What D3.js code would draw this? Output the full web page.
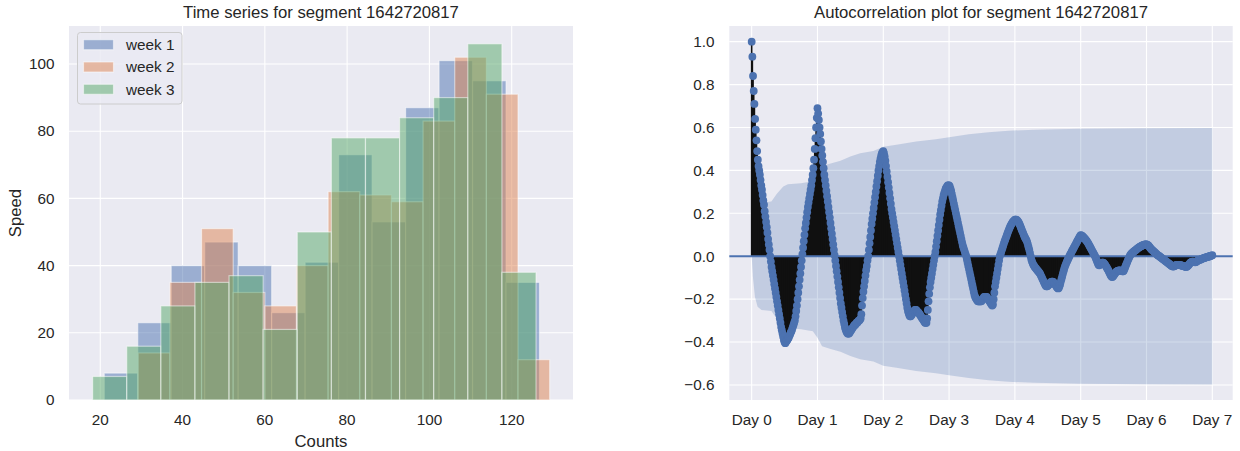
<!DOCTYPE html>
<html>
<head>
<meta charset="utf-8">
<style>
  body { margin: 0; background: #fff; }
  svg { font-family: "Liberation Sans", Arial, sans-serif; }
</style>
</head>
<body>
<svg width="1240" height="451"></svg>
<script src="https://d3js.org/d3.v7.min.js"></script>
<script>

// ---- histogram data (13 equal bins per week, range = [min, max]) ----
var weekNames = ["week 1", "week 2", "week 3"];
var weekColors = ["#4C72B0", "#DD8452", "#55A868"];
var weekRanges = [[20.97, 126.76], [29.23, 129.23], [18.14, 125.91]];
var week1Counts = [8, 23, 40, 47, 40, 26, 41, 73, 53, 87, 101, 95, 35];
var week2Counts = [14, 35, 51, 32, 28, 40, 62, 61, 59, 83, 102, 91, 12];
var week3Counts = [7, 16, 28, 35, 37, 21, 50, 78, 78, 84, 90, 106, 38];
var histTicksX = [20, 40, 60, 80, 100, 120];
var histTicksY = [0, 20, 40, 60, 80, 100];

// ---- autocorrelation data, one value per lag (96 lags per day) ----
var lagsPerDay = 96;
var acfDay0 = [1.00,0.93,0.84,0.77,0.71,0.64,0.59,0.54,0.49,0.45,
  0.42,0.40,0.38,0.355,0.33,0.31,0.285,0.26,0.24,0.21,
  0.185,0.16,0.135,0.11,0.08,0.055,0.03,0.0,-0.025,-0.05,
  -0.07,-0.09,-0.11,-0.13,-0.15,-0.17,-0.19,-0.21,-0.23,-0.25,
  -0.27,-0.29,-0.31,-0.33,-0.345,-0.36,-0.375,-0.39,-0.40,-0.405,
  -0.40,-0.395,-0.39,-0.385,-0.38,-0.37,-0.365,-0.355,-0.35,-0.34,
  -0.33,-0.32,-0.31,-0.30,-0.28,-0.255,-0.23,-0.20,-0.17,-0.14,
  -0.11,-0.08,-0.05,-0.02,0.01,0.04,0.07,0.10,0.13,0.155,
  0.18,0.205,0.23,0.25,0.27,0.29,0.31,0.33,0.355,0.38,
  0.41,0.45,0.50,0.55,0.60,0.645];
var acfDay1 = [0.69,0.665,0.635,0.60,0.57,0.535,0.50,0.47,0.44,0.41,
  0.38,0.355,0.33,0.305,0.28,0.255,0.23,0.205,0.18,0.155,
  0.13,0.105,0.08,0.055,0.03,0.005,-0.02,-0.045,-0.07,-0.095,
  -0.12,-0.145,-0.17,-0.195,-0.22,-0.24,-0.26,-0.28,-0.30,-0.315,
  -0.33,-0.34,-0.35,-0.355,-0.36,-0.36,-0.36,-0.355,-0.35,-0.345,
  -0.34,-0.335,-0.33,-0.325,-0.32,-0.32,-0.315,-0.31,-0.31,-0.305,
  -0.30,-0.30,-0.295,-0.29,-0.27,-0.23,-0.195,-0.165,-0.14,-0.115,
  -0.09,-0.065,-0.045,-0.02,0.0,0.03,0.06,0.09,0.12,0.15,
  0.175,0.20,0.225,0.25,0.275,0.30,0.325,0.35,0.375,0.40,
  0.42,0.44,0.455,0.47,0.48,0.485];
var acfDay2 = [0.49,0.48,0.465,0.445,0.42,0.395,0.37,0.345,0.32,0.295,
  0.27,0.245,0.22,0.20,0.18,0.16,0.14,0.12,0.10,0.08,
  0.06,0.04,0.02,0.0,-0.02,-0.04,-0.06,-0.08,-0.10,-0.12,
  -0.14,-0.16,-0.18,-0.20,-0.22,-0.24,-0.255,-0.265,-0.275,-0.28,
  -0.28,-0.275,-0.27,-0.265,-0.26,-0.255,-0.25,-0.25,-0.25,-0.255,
  -0.26,-0.26,-0.265,-0.27,-0.275,-0.28,-0.285,-0.29,-0.295,-0.30,
  -0.305,-0.31,-0.31,-0.31,-0.29,-0.25,-0.21,-0.175,-0.145,-0.12,
  -0.10,-0.08,-0.06,-0.04,-0.02,0.0,0.02,0.045,0.07,0.095,
  0.12,0.145,0.17,0.195,0.215,0.235,0.255,0.27,0.285,0.295,
  0.305,0.315,0.32,0.325,0.33,0.33];
var acfDay3 = [0.33,0.325,0.315,0.305,0.29,0.275,0.26,0.245,0.23,0.215,
  0.20,0.185,0.17,0.155,0.14,0.125,0.11,0.095,0.08,0.065,
  0.05,0.04,0.03,0.02,0.01,0.0,-0.015,-0.03,-0.045,-0.06,
  -0.075,-0.09,-0.105,-0.12,-0.135,-0.15,-0.165,-0.18,-0.19,-0.195,
  -0.20,-0.205,-0.21,-0.21,-0.21,-0.21,-0.21,-0.21,-0.205,-0.20,
  -0.195,-0.19,-0.19,-0.19,-0.19,-0.19,-0.195,-0.20,-0.205,-0.21,
  -0.215,-0.22,-0.225,-0.23,-0.225,-0.20,-0.17,-0.14,-0.12,-0.10,
  -0.08,-0.06,-0.04,-0.02,0.0,0.01,0.02,0.03,0.04,0.05,
  0.06,0.07,0.078,0.087,0.096,0.105,0.114,0.122,0.13,0.138,
  0.144,0.15,0.155,0.16,0.163,0.166];
var acfDay4 = [0.17,0.17,0.17,0.168,0.165,0.16,0.155,0.148,0.14,0.132,
  0.124,0.116,0.108,0.10,0.092,0.085,0.08,0.074,0.065,0.054,
  0.042,0.03,0.016,0.0,-0.015,-0.025,-0.033,-0.04,-0.045,-0.05,
  -0.054,-0.058,-0.062,-0.066,-0.07,-0.074,-0.078,-0.083,-0.09,-0.097,
  -0.104,-0.111,-0.118,-0.125,-0.132,-0.138,-0.14,-0.14,-0.138,-0.134,
  -0.13,-0.126,-0.122,-0.12,-0.118,-0.118,-0.12,-0.124,-0.128,-0.133,
  -0.138,-0.143,-0.147,-0.15,-0.148,-0.14,-0.13,-0.118,-0.106,-0.094,
  -0.082,-0.07,-0.058,-0.048,-0.04,-0.032,-0.024,-0.017,-0.01,-0.003,
  0.004,0.01,0.016,0.022,0.028,0.034,0.04,0.046,0.052,0.058,
  0.064,0.07,0.076,0.082,0.088,0.094];
var acfDay5 = [0.098,0.097,0.095,0.092,0.089,0.086,0.082,0.078,0.074,0.07,
  0.065,0.06,0.054,0.048,0.042,0.036,0.03,0.024,0.018,0.012,
  0.006,0.0,-0.008,-0.016,-0.025,-0.033,-0.04,-0.042,-0.04,-0.036,
  -0.032,-0.03,-0.03,-0.03,-0.033,-0.037,-0.042,-0.047,-0.052,-0.058,
  -0.064,-0.07,-0.077,-0.084,-0.09,-0.095,-0.097,-0.095,-0.09,-0.085,
  -0.08,-0.076,-0.072,-0.07,-0.068,-0.067,-0.066,-0.066,-0.067,-0.068,
  -0.069,-0.07,-0.07,-0.066,-0.058,-0.05,-0.042,-0.034,-0.026,-0.018,
  -0.01,-0.003,0.004,0.008,0.012,0.015,0.018,0.021,0.024,0.026,
  0.028,0.031,0.034,0.037,0.039,0.041,0.043,0.045,0.047,0.049,
  0.05,0.052,0.053,0.054,0.055,0.055];
var acfDay6 = [0.055,0.054,0.052,0.049,0.045,0.041,0.037,0.033,0.03,0.027,
  0.024,0.021,0.018,0.015,0.012,0.009,0.006,0.004,0.002,0.0,
  -0.003,-0.005,-0.008,-0.01,-0.013,-0.015,-0.018,-0.02,-0.023,-0.025,
  -0.028,-0.03,-0.033,-0.035,-0.038,-0.04,-0.043,-0.045,-0.047,-0.048,
  -0.047,-0.045,-0.043,-0.041,-0.04,-0.04,-0.04,-0.04,-0.04,-0.041,
  -0.042,-0.043,-0.044,-0.045,-0.046,-0.047,-0.048,-0.049,-0.05,-0.048,
  -0.045,-0.042,-0.038,-0.034,-0.03,-0.028,-0.026,-0.025,-0.025,-0.026,
  -0.027,-0.028,-0.027,-0.025,-0.022,-0.02,-0.018,-0.017,-0.016,-0.015,
  -0.013,-0.012,-0.01,-0.009,-0.008,-0.007,-0.006,-0.005,-0.004,-0.003,
  -0.002,-0.001,0.0,0.001,0.002,0.003,0.005];

// confidence band half-width (symmetric around 0)
var bandDays = [0, 0.02, 0.05, 0.09, 0.15, 0.3, 0.38, 0.48, 0.55, 0.75, 0.93, 1.0, 1.07,
  1.2, 1.35, 1.5, 1.65, 1.85, 2.0, 2.2, 2.5, 2.8, 3.0, 3.3, 3.6, 3.9, 4.3, 5.0, 6.0, 7.0];
var bandHalf = [0, 0.10, 0.19, 0.235, 0.25, 0.255, 0.29, 0.325, 0.335, 0.34, 0.35, 0.38, 0.42,
  0.432, 0.445, 0.465, 0.48, 0.49, 0.51, 0.52, 0.535, 0.545, 0.555, 0.568, 0.578, 0.585, 0.59, 0.594, 0.597, 0.598];
var dayTicks = [0, 1, 2, 3, 4, 5, 6, 7];
var acfTicksY = [-0.6, -0.4, -0.2, 0.0, 0.2, 0.4, 0.6, 0.8, 1.0];

var svg = d3.select("svg");
var bg = "#EAEAF2", ink = "#262626";

// ================= left: histogram =================
var xH = d3.scaleLinear().domain([12.4, 134.9]).range([69, 573]);
var yH = d3.scaleLinear().domain([0, 111.3]).range([400, 26]);

var gL = svg.append("g");
gL.append("rect").attr("x", 69).attr("y", 26).attr("width", 504).attr("height", 374).attr("fill", bg);

gL.selectAll(".gx").data(histTicksX).enter().append("line")
    .attr("x1", d => xH(d)).attr("x2", d => xH(d)).attr("y1", 26).attr("y2", 400)
    .attr("stroke", "#fff").attr("stroke-width", 1.1);
gL.selectAll(".gy").data(histTicksY).enter().append("line")
    .attr("x1", 69).attr("x2", 573).attr("y1", d => yH(d)).attr("y2", d => yH(d))
    .attr("stroke", "#fff").attr("stroke-width", 1.1);

var weekCounts = [week1Counts, week2Counts, week3Counts];
weekCounts.forEach(function(counts, w) {
  var lo = weekRanges[w][0], hi = weekRanges[w][1];
  var step = (hi - lo) / counts.length;
  var bins = counts.map(function(c, i) { return {x0: lo + i * step, x1: lo + (i + 1) * step, n: c}; });
  gL.append("g").selectAll("rect").data(bins).enter().append("rect")
      .attr("x", d => xH(d.x0)).attr("width", d => xH(d.x1) - xH(d.x0))
      .attr("y", d => yH(d.n)).attr("height", d => yH(0) - yH(d.n))
      .attr("fill", weekColors[w]).attr("fill-opacity", 0.5)
      .attr("stroke", "#fff").attr("stroke-opacity", 0.5).attr("stroke-width", 1.2);
});

gL.append("g").attr("font-size", 15.3).attr("fill", ink).attr("text-anchor", "middle")
  .selectAll("text").data(histTicksX).enter().append("text")
    .attr("x", d => xH(d)).attr("y", 425).text(d => d);
gL.append("g").attr("font-size", 15.3).attr("fill", ink).attr("text-anchor", "end")
  .selectAll("text").data(histTicksY).enter().append("text")
    .attr("x", 54.5).attr("y", d => yH(d) + 5.3).text(d => d);

gL.append("text").attr("x", 321).attr("y", 446.5).attr("text-anchor", "middle")
    .attr("font-size", 16.7).attr("fill", ink).text("Counts");
gL.append("text").attr("transform", "translate(21,213) rotate(-90)").attr("text-anchor", "middle")
    .attr("font-size", 16.7).attr("fill", ink).text("Speed");
gL.append("text").attr("x", 321).attr("y", 17.5).attr("text-anchor", "middle")
    .attr("font-size", 16.7).attr("fill", ink).text("Time series for segment 1642720817");

// legend
var leg = gL.append("g");
leg.append("rect").attr("x", 77.5).attr("y", 32.5).attr("width", 104.5).attr("height", 71.5)
    .attr("rx", 3).attr("fill", bg).attr("fill-opacity", 0.8).attr("stroke", "#cccccc");
weekNames.forEach(function(name, w) {
  var cy = 44.7 + w * 22.3;
  leg.append("rect").attr("x", 83.5).attr("y", cy - 5).attr("width", 30).attr("height", 10)
      .attr("fill", weekColors[w]).attr("fill-opacity", 0.5)
      .attr("stroke", "#fff").attr("stroke-opacity", 0.5).attr("stroke-width", 1.2);
  leg.append("text").attr("x", 126).attr("y", cy + 5.4).attr("font-size", 15.3).attr("fill", ink).text(name);
});

// ================= right: autocorrelation =================
var acf = d3.merge([acfDay0, acfDay1, acfDay2, acfDay3, acfDay4, acfDay5, acfDay6]);
var pts = acf.map(function(v, k) { return {day: k / lagsPerDay, v: v}; });

var xA = d3.scaleLinear().domain([-0.34, 7.31]).range([729.3, 1232.7]);
var yA = d3.scaleLinear().domain([-0.67, 1.073]).range([400, 26]);
var fmt = d3.format(".1f");

var gR = svg.append("g");
gR.append("rect").attr("x", 729.3).attr("y", 26).attr("width", 503.4).attr("height", 374).attr("fill", bg);
gR.selectAll(".gx").data(dayTicks).enter().append("line")
    .attr("x1", d => xA(d)).attr("x2", d => xA(d)).attr("y1", 26).attr("y2", 400)
    .attr("stroke", "#fff").attr("stroke-width", 1.1);
gR.selectAll(".gy").data(acfTicksY).enter().append("line")
    .attr("x1", 729.3).attr("x2", 1232.7).attr("y1", d => yA(d)).attr("y2", d => yA(d))
    .attr("stroke", "#fff").attr("stroke-width", 1.1);

var band = bandDays.map(function(d, i) { return {day: d, h: bandHalf[i]}; });
gR.append("path").datum(band)
    .attr("d", d3.area().x(d => xA(d.day)).y0(d => yA(-d.h)).y1(d => yA(d.h)))
    .attr("fill", "#4C72B0").attr("fill-opacity", 0.25);

gR.append("g").selectAll("line").data(pts).enter().append("line")
    .attr("x1", d => xA(d.day)).attr("x2", d => xA(d.day))
    .attr("y1", yA(0)).attr("y2", d => yA(d.v))
    .attr("stroke", "#111").attr("stroke-width", 1.6);

gR.append("line").attr("x1", 729.3).attr("x2", 1232.7).attr("y1", yA(0)).attr("y2", yA(0))
    .attr("stroke", "#4C72B0").attr("stroke-width", 2);

gR.append("g").selectAll("circle").data(pts).enter().append("circle")
    .attr("cx", d => xA(d.day)).attr("cy", d => yA(d.v)).attr("r", 3.9)
    .attr("fill", "#4C72B0");

gR.append("g").attr("font-size", 15.3).attr("fill", ink).attr("text-anchor", "middle")
  .selectAll("text").data(dayTicks).enter().append("text")
    .attr("x", d => xA(d)).attr("y", 425).text(d => "Day " + d);
gR.append("g").attr("font-size", 15.3).attr("fill", ink).attr("text-anchor", "end")
  .selectAll("text").data(acfTicksY).enter().append("text")
    .attr("x", 714.5).attr("y", d => yA(d) + 5.3).text(d => fmt(d));
gR.append("text").attr("x", 981).attr("y", 17.5).attr("text-anchor", "middle")
    .attr("font-size", 16.7).attr("fill", ink).text("Autocorrelation plot for segment 1642720817");

</script>
</body>
</html>
